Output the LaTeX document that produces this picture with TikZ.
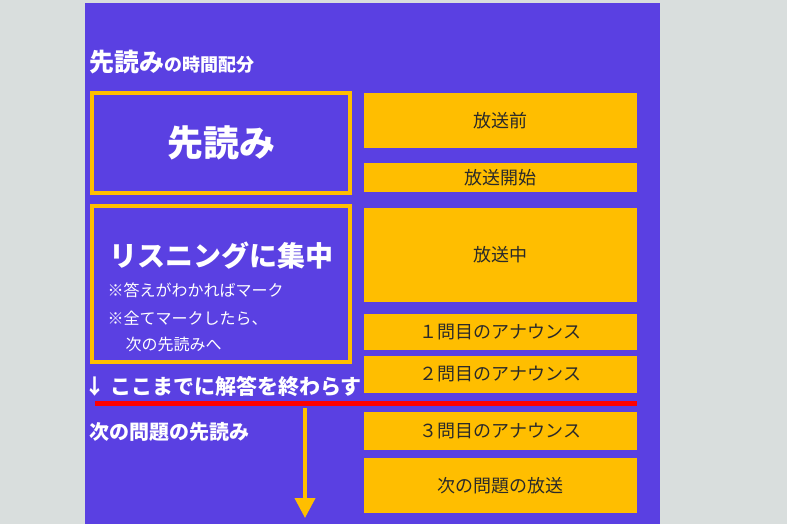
\documentclass[tikz,border=0pt]{standalone}
\usepackage{fontspec}
\setmainfont{Noto Sans CJK JP}
\usetikzlibrary{arrows.meta}
\definecolor{panel}{HTML}{5A40E2}
\definecolor{gold}{HTML}{FFBE00}
\definecolor{bg}{HTML}{D9DEDD}
\definecolor{ink}{HTML}{2A2A2A}
\tikzset{
  frame/.style={draw=gold,line width=4pt},
  slot/.style={fill=gold,draw=none},
  slottext/.style={text=ink,font=\fontsize{18}{18}\selectfont},
  wtxt/.style={text=white,font=\bfseries}
}
\begin{document}
\begin{tikzpicture}[x=1pt,y=-1pt]
\useasboundingbox (0,0) rectangle (787,524);
\fill[bg] (0,0) rectangle (787,524);
\fill[panel] (85,3) rectangle (660,524);
\node[wtxt,anchor=base west,inner sep=0] (title) at (89,72) {\fontsize{25}{25}\selectfont 先読み\fontsize{18}{18}\selectfont の時間配分};
\draw[frame] (92,93) rectangle (350,193);
\node[wtxt,font=\bfseries\fontsize{36}{36}\selectfont] (sk) at (221,143) {先読み};
\draw[frame] (92,206) rectangle (350,362);
\node[wtxt,font=\bfseries\fontsize{28}{28}\selectfont] (ls) at (221,256) {リスニングに集中};
\node[wtxt,anchor=west,font=\fontsize{16}{16}\selectfont] (n1) at (104,290) {※答えがわかればマーク};
\node[wtxt,anchor=west,font=\fontsize{16}{16}\selectfont] (n2) at (104,318) {※全てマークしたら、};
\node[wtxt,anchor=west,font=\fontsize{16}{16}\selectfont] (n3) at (122,344) {次の先読みへ};
\foreach \n/\a/\b/\t in {r1/93/148/放送前, r2/163/192/放送開始, r3/208/302/放送中, r4/314/350/１問目のアナウンス, r5/356/393/２問目のアナウンス, r6/412/450/３問目のアナウンス, r7/458/513/次の問題の放送}{
  \fill[slot] (364,\a) rectangle (637,\b);
  \node[slottext] (\n) at (500.5,{(\a+\b)/2}) {\t};
}
\node[wtxt,anchor=west,font=\bfseries\fontsize{21}{21}\selectfont,inner sep=0] (lim) at (84,387) {↓ ここまでに解答を終わらす};
\coordinate (ra) at (95,403); \coordinate (rb) at (637,403);
\draw[red,line width=5pt] (ra) -- (rb);
\node[wtxt,anchor=west,font=\bfseries\fontsize{20}{20}\selectfont,inner sep=0] (nx) at (89,432) {次の問題の先読み};
\coordinate (aa) at (305,408); \coordinate (ab) at (305,518);
\draw[gold,line width=4pt,-{Triangle[width=20pt,length=20pt]}] (aa) -- (ab);
\end{tikzpicture}
\end{document}
